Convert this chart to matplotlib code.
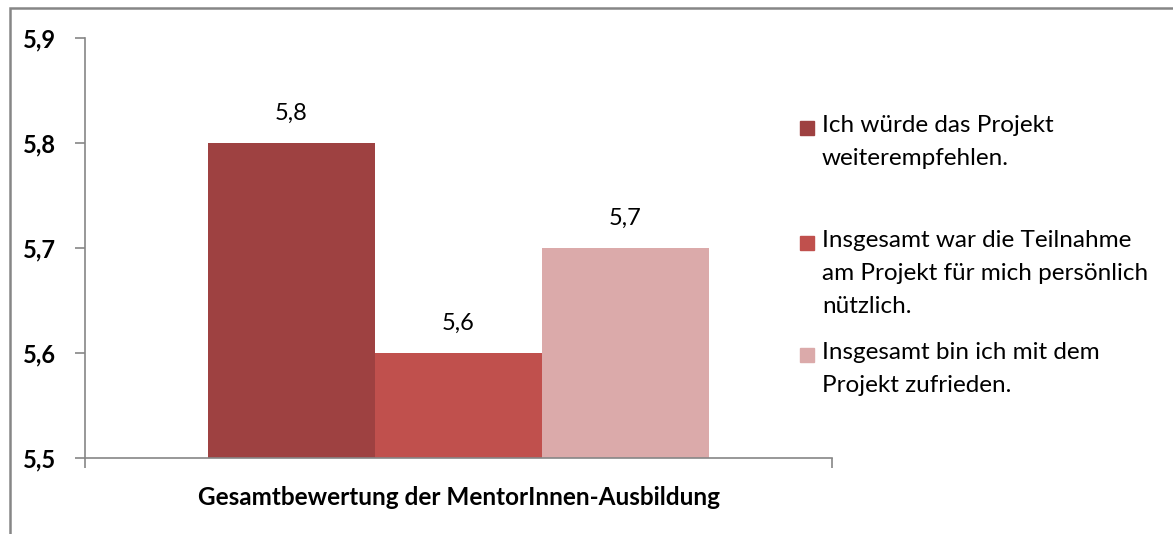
import matplotlib
matplotlib.use("Agg")
import matplotlib.pyplot as plt
from matplotlib.patches import Rectangle

plt.rcParams["font.family"] = ["Lato", "DejaVu Sans"]

category = "Gesamtbewertung der MentorInnen-Ausbildung"
series_labels = [
    "Ich würde das Projekt\nweiterempfehlen.",
    "Insgesamt war die Teilnahme\nam Projekt für mich persönlich\nnützlich.",
    "Insgesamt bin ich mit dem\nProjekt zufrieden.",
]
values = [5.8, 5.6, 5.7]
colors = ["#9E4141", "#C0504D", "#DBAAAA"]
yticks = [5.5, 5.6, 5.7, 5.8, 5.9]

W, H = 1173, 534
fig = plt.figure(figsize=(W / 100, H / 100), dpi=100)
ax = fig.add_axes([85 / W, 1 - 458 / H, (832 - 85) / W, (458 - 38) / H])

bar_w = 0.2236
offsets = [-bar_w, 0.0, bar_w]
for v, c, off, lab in zip(values, colors, offsets, series_labels):
    ax.bar(off, v - 5.5, bottom=5.5, width=bar_w, color=c, label=lab)
    ax.annotate(f"{v:.1f}".replace(".", ","), xy=(off, v), xytext=(0, 21),
                textcoords="offset points", ha="center", va="center", fontsize=17)

ax.set_xlim(-0.5, 0.5)
ax.set_ylim(5.5, 5.9)
ax.set_yticks(yticks)
ax.set_yticklabels([f"{t:.1f}".replace(".", ",") for t in yticks],
                   fontsize=17, fontweight="bold")
ax.set_xticks([-0.5, 0.5])
ax.set_xticklabels(["", ""])
ax.set_xticks([0.0], minor=True)
ax.set_xticklabels([category], minor=True, fontsize=17.5, fontweight="bold")
ax.tick_params(axis="x", which="minor", length=0, pad=20)
ax.tick_params(axis="both", which="major", length=7, color="#868686", width=1.2)
ax.tick_params(axis="y", pad=14)

for side in ["top", "right"]:
    ax.spines[side].set_visible(False)
for side in ["left", "bottom"]:
    ax.spines[side].set_color("#868686")
    ax.spines[side].set_linewidth(1.2)

# outer chart frame (cut off at right and bottom)
fig.patches.append(Rectangle((10 / W, -0.1), 1.2, 1.1 - 8.5 / H, transform=fig.transFigure,
                             fill=False, edgecolor="#868686", linewidth=1.8))

# legend laid out like the original
legend_y = [128, 243, 355]
for lab, c, y in zip(series_labels, colors, legend_y):
    fig.patches.append(Rectangle((800 / W, 1 - (y + 7) / H), 14 / W, 14 / H,
                                 transform=fig.transFigure, color=c))
    fig.text(822 / W, 1 - (y - 13) / H, lab, ha="left", va="top", fontsize=17.5,
             linespacing=1.72)

fig.savefig("out.png", dpi=100)
